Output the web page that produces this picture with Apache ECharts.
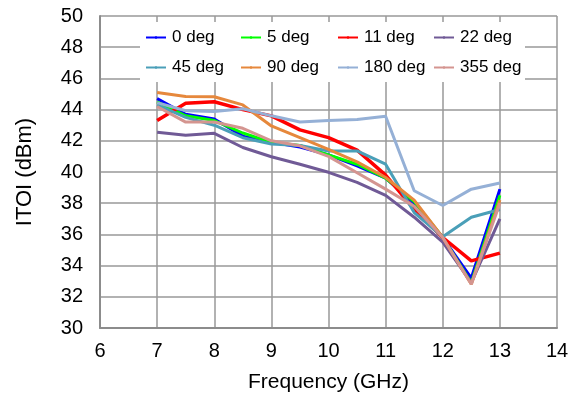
<!DOCTYPE html>
<html>
<head>
<meta charset="utf-8">
<script src="https://cdn.jsdelivr.net/npm/echarts@6/dist/echarts.min.js"></script>
<style>html,body{margin:0;padding:0;background:#fff}#c{width:579px;height:398px}</style>
</head>
<body>
<div id="c"></div>
<script>
var freqs = [7, 7.5, 8, 8.5, 9, 9.5, 10, 10.5, 11, 11.5, 12, 12.5, 13];
var seriesNames = ['0 deg', '5 deg', '11 deg', '22 deg', '45 deg', '90 deg', '180 deg', '355 deg'];
var deg0   = [44.7, 43.7, 43.4, 42.3, 41.9, 41.6, 41.1, 40.4, 39.6, 38.0, 35.8, 33.2, 38.9];
var deg5   = [44.5, 43.6, 43.3, 42.5, 41.9, 41.7, 41.1, 40.5, 39.6, 38.1, 35.8, 32.9, 38.5];
var deg11  = [43.3, 44.4, 44.5, 44.0, 43.6, 42.7, 42.2, 41.4, 39.8, 37.6, 35.8, 34.3, 34.8];
var deg22  = [42.55, 42.36, 42.48, 41.57, 40.98, 40.5, 39.98, 39.34, 38.5, 37.1, 35.5, 32.9, 37.0];
var deg45  = [44.3, 43.5, 43.0, 42.2, 41.8, 41.7, 41.35, 41.35, 40.5, 37.4, 35.85, 37.1, 37.6];
var deg90  = [45.1, 44.84, 44.82, 44.3, 42.95, 42.2, 41.45, 40.65, 39.65, 38.2, 35.8, 32.8, 38.2];
var deg180 = [44.45, 43.93, 43.88, 44.05, 43.6, 43.2, 43.3, 43.37, 43.57, 38.8, 37.85, 38.9, 39.3];
var deg355 = [44.2, 43.2, 43.2, 42.8, 42.0, 41.68, 41.0, 39.95, 38.9, 37.8, 35.8, 32.8, 38.0];
var xTicks = [6, 7, 8, 9, 10, 11, 12, 13, 14];
var yTicks = [30, 32, 34, 36, 38, 40, 42, 44, 46, 48, 50];

var allData = [deg0, deg5, deg11, deg22, deg45, deg90, deg180, deg355];
var colors = ['#0000ff', '#00ff00', '#ff0000', '#705a96', '#4a9fb8', '#e6883c', '#95b0d6', '#d49590'];
var widths = [3, 3, 3.5, 3, 3, 3, 3, 3];

var series = seriesNames.map(function (n, i) {
  return {
    name: n, type: 'line', symbol: 'none', z: 2 + i,
    data: freqs.map(function (f, j) { return [f, allData[i][j]]; }),
    lineStyle: { color: colors[i], width: widths[i] },
    itemStyle: { color: colors[i] }
  };
});

var legendCols = [145, 240, 337, 433];
var legendRows = [29, 59];
var legends = seriesNames.map(function (n, i) {
  return {
    data: [n], left: legendCols[i % 4], top: legendRows[Math.floor(i / 4)],
    itemWidth: 20, itemHeight: 3, itemGap: 0, padding: 0,
    textStyle: { fontFamily: 'Liberation Sans, Arial, sans-serif', fontSize: 17, color: '#000', padding: [0, 0, 0, 1] },
    selectedMode: false, z: 10
  };
});

var chart = echarts.init(document.getElementById('c'), null, { renderer: 'canvas' });
chart.setOption({
  animation: false,
  backgroundColor: '#fff',
  grid: { left: 100, right: 22, top: 16, bottom: 68, show: false },
  legend: legends,
  graphic: [{ type: 'rect', left: 140, top: 22, shape: { width: 385, height: 60 }, style: { fill: '#fff' }, z: 5 }],
  xAxis: {
    type: 'value', min: xTicks[0], max: xTicks[xTicks.length - 1], interval: 1,
    name: 'Frequency (GHz)', nameLocation: 'middle', nameGap: 44,
    nameTextStyle: { fontFamily: 'Liberation Sans, Arial, sans-serif', fontSize: 21, color: '#000' },
    axisLine: { show: true, onZero: false, lineStyle: { color: '#8c8c8c', width: 2 } },
    axisTick: { show: false },
    axisLabel: { fontFamily: 'Liberation Sans, Arial, sans-serif', fontSize: 20, color: '#000', margin: 13 },
    splitLine: { show: true, lineStyle: { color: '#999999', width: 1.5 } }
  },
  yAxis: {
    type: 'value', min: yTicks[0], max: yTicks[yTicks.length - 1], interval: 2,
    name: 'ITOI (dBm)', nameLocation: 'middle', nameGap: 64, nameRotate: 90,
    nameTextStyle: { fontFamily: 'Liberation Sans, Arial, sans-serif', fontSize: 22, color: '#000' },
    axisLine: { show: true, onZero: false, lineStyle: { color: '#8c8c8c', width: 2 } },
    axisTick: { show: false },
    axisLabel: { fontFamily: 'Liberation Sans, Arial, sans-serif', fontSize: 20, color: '#000', margin: 17 },
    splitLine: { show: true, lineStyle: { color: '#999999', width: 1.5 } }
  },
  series: series
});
</script>
</body>
</html>
